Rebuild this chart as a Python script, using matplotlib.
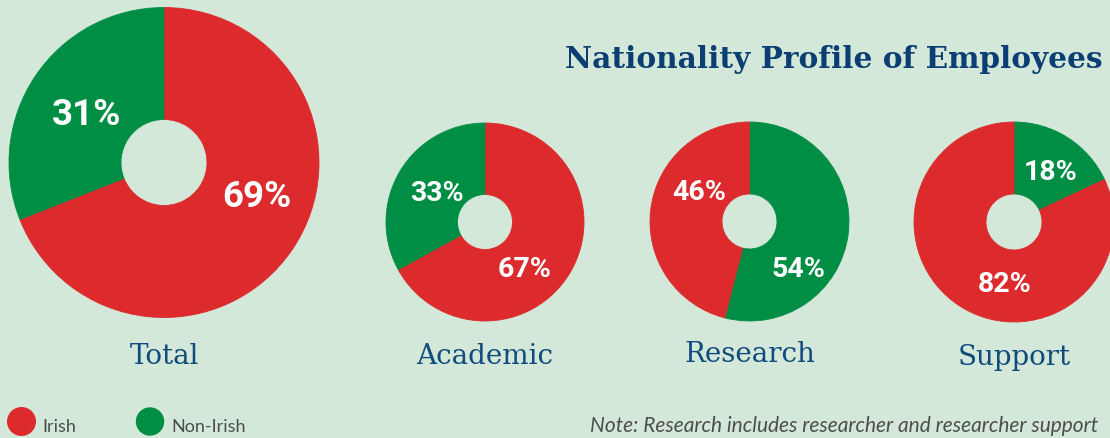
import matplotlib
matplotlib.use('Agg')
import matplotlib.pyplot as plt
from matplotlib.patches import Circle

# ---- data ----
categories = ['Total', 'Academic', 'Research', 'Support']
irish = [69, 67, 46, 82]
non_irish = [31, 33, 54, 18]
title = 'Nationality Profile of Employees'
legend_labels = ['Irish', 'Non-Irish']
note = 'Note: Research includes researcher and researcher support'

# ---- style ----
RED = '#dc2a2d'
GREEN = '#008e45'
BG = '#d3e8d8'
TITLE_BLUE = '#0b3f73'
LABEL_BLUE = '#104b7e'
GRAY = '#4d4d4d'

W, H = 1110, 439
fig = plt.figure(figsize=(W / 100, H / 100), dpi=100, facecolor=BG)
ax = fig.add_axes([0, 0, 1, 1])
ax.set_facecolor(BG)


def Y(py):
    return H - py


# layout in pixels (y measured from top)
centers = [(164, 163.5), (485, 223), (749.5, 222.5), (1014, 223)]
radii = [155, 99, 99.5, 100]
holes = [43, 27.5, 27.5, 28]
green_first = [False, False, True, True]
irish_label_pos = [(257, 207), (524.5, 277), (699, 200), (1005, 292)]
non_label_pos = [(87, 125), (436.5, 201), (798, 277), (1051, 180)]
pct_sizes = [26.5, 20.5, 20.5, 20.5]
cat_baselines = [364, 364, 362, 365]

for i, cat in enumerate(categories):
    cx, cy = centers[i]
    if green_first[i]:
        vals = [non_irish[i], irish[i]]
        cols = [GREEN, RED]
    else:
        vals = [irish[i], non_irish[i]]
        cols = [RED, GREEN]
    wedges, _ = ax.pie(vals, colors=cols, startangle=90, counterclock=False,
                       center=(cx, Y(cy)), radius=radii[i],
                       wedgeprops=dict(width=radii[i] - holes[i], linewidth=0.6))
    for w, c in zip(wedges, cols):
        w.set_edgecolor(c)
    # percentage labels
    ix, iy = irish_label_pos[i]
    nx, ny = non_label_pos[i]
    ax.text(ix, Y(iy), f'{irish[i]}%', ha='center', va='baseline', color='white',
            fontsize=pct_sizes[i], fontweight='bold', family='Roboto')
    ax.text(nx, Y(ny), f'{non_irish[i]}%', ha='center', va='baseline', color='white',
            fontsize=pct_sizes[i], fontweight='bold', family='Roboto')
    # category label
    ax.text(cx, Y(cat_baselines[i]), cat, ha='center', va='baseline',
            color=LABEL_BLUE, fontsize=20, family='DejaVu Serif')

# title
ax.text(565, Y(68), title, ha='left', va='baseline', color=TITLE_BLUE,
        fontsize=21.3, fontweight='bold', family='DejaVu Serif')

# legend
leg_circles = [(21.5, 422.5, 14.5), (150, 422.5, 14.2)]
leg_text_x = [42, 171]
for (lx, ly, lr), col, lab, tx in zip(leg_circles, [RED, GREEN], legend_labels, leg_text_x):
    ax.add_patch(Circle((lx, Y(ly)), lr, color=col, lw=0))
    ax.text(tx, Y(432), lab, ha='left', va='baseline', color=GRAY,
            fontsize=13, family='Lato')

# note
ax.text(590, Y(432.5), note, ha='left', va='baseline', color=GRAY,
        fontsize=15, style='italic', family='Lato')

ax.set_xlim(0, W)
ax.set_ylim(0, H)
ax.set_aspect('auto')
ax.axis('off')

fig.savefig('out.png', dpi=100, facecolor=BG)
